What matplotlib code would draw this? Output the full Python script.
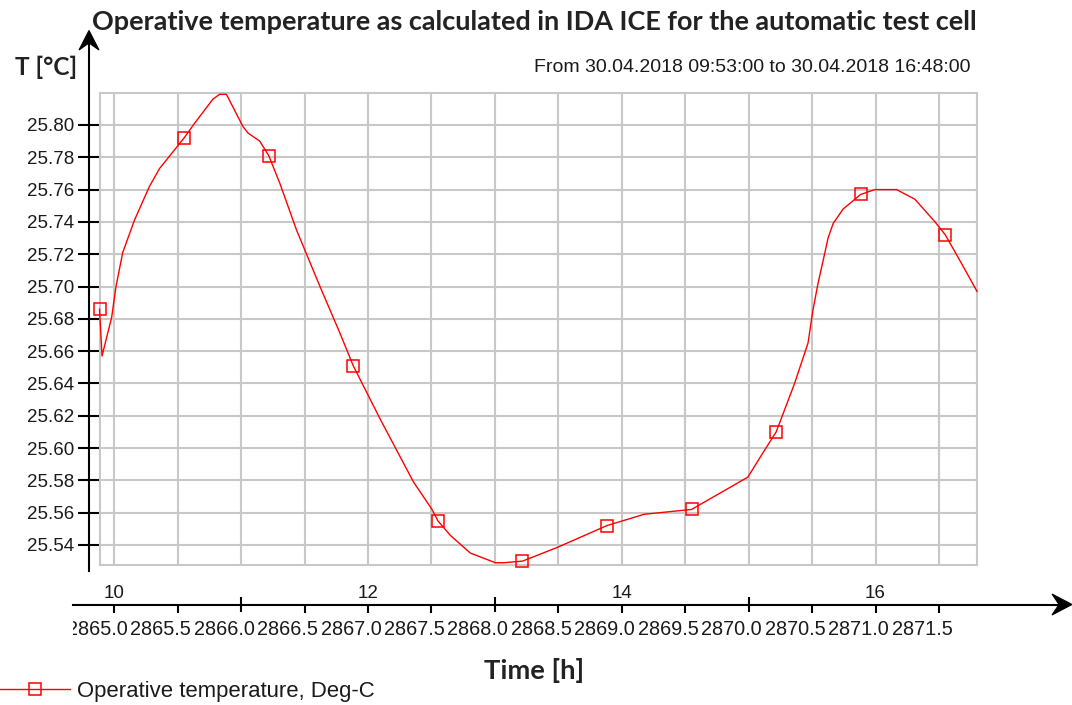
import matplotlib
matplotlib.use("Agg")
import matplotlib.pyplot as plt
from matplotlib.lines import Line2D
from matplotlib.patches import Polygon, Rectangle
from matplotlib.transforms import (ScaledTranslation, Bbox, TransformedBbox,
                                   blended_transform_factory)

# ---- data: operative temperature over the day (hours, deg C) ----
time_h = [9.883, 9.903, 9.979, 10.013, 10.066, 10.158, 10.277, 10.356, 10.550,
          10.632, 10.777, 10.830, 10.883, 11.014, 11.054, 11.146, 11.217, 11.304,
          11.436, 11.621, 11.779, 11.883, 12.095, 12.358, 12.504, 12.550, 12.648,
          12.806, 13.004, 13.070, 13.217, 13.492, 13.883, 14.176, 14.550, 14.994,
          15.112, 15.217, 15.362, 15.468, 15.507, 15.547, 15.587, 15.626, 15.666,
          15.745, 15.883, 15.995, 16.166, 16.311, 16.469, 16.550, 16.680, 16.800]
temp_c = [25.686, 25.657, 25.681, 25.700, 25.721, 25.741, 25.762, 25.773, 25.792,
          25.801, 25.816, 25.819, 25.819, 25.799, 25.795, 25.790, 25.781, 25.764,
          25.735, 25.700, 25.671, 25.651, 25.618, 25.579, 25.562, 25.555, 25.546,
          25.535, 25.529, 25.529, 25.530, 25.5385, 25.552, 25.559, 25.562, 25.582,
          25.597, 25.610, 25.640, 25.665, 25.6855, 25.702, 25.716, 25.730, 25.739,
          25.748, 25.757, 25.760, 25.760, 25.754, 25.740, 25.732, 25.714, 25.697]
marker_idx = [0, 8, 16, 21, 25, 30, 32, 34, 37, 46, 51]

series_label = "Operative temperature, Deg-C"

x_ticks = [10.0, 10.5, 11.0, 11.5, 12.0, 12.5, 13.0, 13.5, 14.0, 14.5, 15.0,
           15.5, 16.0, 16.5]
x_tick_labels = ["2865.0", "2865.5", "2866.0", "2866.5", "2867.0", "2867.5",
                 "2868.0", "2868.5", "2869.0", "2869.5", "2870.0", "2870.5",
                 "2871.0", "2871.5"]
long_ticks = [11.0, 13.0, 15.0]
hour_ticks = [10, 12, 14, 16]
hour_labels = ["10", "12", "14", "16"]
y_ticks = [25.54, 25.56, 25.58, 25.60, 25.62, 25.64, 25.66, 25.68, 25.70,
           25.72, 25.74, 25.76, 25.78, 25.80]
y_tick_labels = ["25.54", "25.56", "25.58", "25.60", "25.62", "25.64", "25.66",
                 "25.68", "25.70", "25.72", "25.74", "25.76", "25.78", "25.80"]
t_start, t_end = 9.883, 16.8
y_min, y_max = 25.5276, 25.8198

title = "Operative temperature as calculated in IDA ICE for the automatic test cell"
subtitle = "From 30.04.2018 09:53:00 to 30.04.2018 16:48:00"
y_title = "T [°C]"
x_title = "Time [h]"

# ---- layout helpers (pixel coordinates measured from the top-left) ----
W, H, DPI = 1072, 705, 100
PT = 72.0 / DPI


def fx(x):
    return x / W


def fy(y):
    return 1.0 - y / H


SANS = ["Liberation Sans", "DejaVu Sans"]
BOLD = ["Lato", "DejaVu Sans"]
TXT = "#1a1a1a"
GRID = "#c8c8c8"
RED = "#ff0000"
FS = 13.5
FS_X = 14.3

fig = plt.figure(figsize=(W / DPI, H / DPI), dpi=DPI)
fig.patch.set_facecolor("white")

L, R, T, B = 99.5, 977, 93, 565
ax = fig.add_axes([fx(L), fy(B), (R - L) / W, (B - T) / H])
ax.set_xlim(t_start, t_end)
ax.set_ylim(y_min, y_max)
ax.set_facecolor("white")

for s in ax.spines.values():
    s.set_visible(False)
ax.spines["bottom"].set_position(("outward", (604 - B) * PT))
ax.add_patch(Rectangle((0, 0), 1, 1, transform=ax.transAxes, fill=False,
                       ec=GRID, lw=1.5, clip_on=False, zorder=1))

# x ticks: long ticks at whole even hours of year, short ones elsewhere
lab = dict(zip(x_ticks, x_tick_labels))
short_ticks = [t for t in x_ticks if t not in long_ticks]
ax.set_xticks(long_ticks, labels=[lab[t] for t in long_ticks])
ax.set_xticks(short_ticks, labels=[lab[t] for t in short_ticks], minor=True)
ax.tick_params(axis="x", which="major", direction="inout", length=15 * PT,
               width=1.5, color="black", pad=5.3 + 1.08, labelsize=FS_X,
               labelcolor=TXT)
ax.tick_params(axis="x", which="minor", direction="out", length=9 * PT,
               width=1.5, color="black", pad=5.3, labelsize=FS_X,
               labelcolor=TXT)

ax.set_yticks(y_ticks, labels=y_tick_labels)
ax.tick_params(axis="y", direction="out", length=22.5 * PT, width=1.5,
               color="black", pad=2.5 * PT, labelsize=FS, labelcolor=TXT)

for lbl in ax.get_xticklabels() + ax.get_yticklabels() + \
        ax.get_xticklabels(minor=True):
    lbl.set_fontfamily(SANS)

shift = ScaledTranslation(-17 / DPI, 0, fig.dpi_scale_trans)
clip = TransformedBbox(Bbox.from_extents(fx(73), 0, 1, 1), fig.transFigure)
for lbl in ax.get_xticklabels() + ax.get_xticklabels(minor=True):
    lbl.set_transform(lbl.get_transform() + shift)
    lbl.set_clip_on(True)
    lbl.set_clip_box(clip)

ax.grid(which="both", axis="x", color=GRID, lw=1.5, zorder=0)
ax.grid(which="major", axis="y", color=GRID, lw=1.5, zorder=0)
ax.set_axisbelow(True)

# the temperature curve with square markers every 40 minutes
ax.plot(time_h, temp_c, color=RED, lw=1.0, marker="s", markevery=marker_idx,
        ms=8.4, mfc="none", mec=RED, mew=1.1, clip_on=False, zorder=3)

# hour-of-day labels above the time axis
trans = blended_transform_factory(ax.transData, fig.transFigure)
for h, s in zip(hour_ticks, hour_labels):
    ax.text(h, fy(598), s, transform=trans, ha="center", va="baseline",
            fontsize=FS, family=SANS, color=TXT, clip_on=False)

# axis lines with arrow heads
fig.add_artist(Line2D([fx(89), fx(89)], [fy(571), fy(42)], color="black",
                      lw=1.5, transform=fig.transFigure))
fig.add_artist(Polygon([(fx(89), fy(30.5)), (fx(79), fy(50)), (fx(89), fy(43)),
                        (fx(99), fy(50))], closed=True, fc="black", ec="black",
                       lw=0.8, transform=fig.transFigure))
fig.add_artist(Line2D([fx(73), fx(1062)], [fy(604.5), fy(604.5)], color="black",
                      lw=1.5, transform=fig.transFigure))
fig.add_artist(Polygon([(fx(1072), fy(604.5)), (fx(1052), fy(594)),
                        (fx(1059), fy(604.5)), (fx(1052), fy(615))],
                       closed=True, fc="black", ec="black", lw=0.8,
                       transform=fig.transFigure))

# titles
renderer = fig.canvas.get_renderer()


def fit_width(txt, width_px):
    for _ in range(3):
        w = txt.get_window_extent(renderer).width
        txt.set_fontsize(txt.get_fontsize() * width_px / w)


t1 = fig.text(fx(92), fy(30), title, ha="left", va="baseline",
              fontweight="bold", family=BOLD, color="#222222", fontsize=18)
fit_width(t1, 885)
t2 = fig.text(fx(971), fy(72), subtitle, ha="right", va="baseline",
              family=SANS, color=TXT, fontsize=FS)
fit_width(t2, 438)
t3 = fig.text(fx(15), fy(75), y_title, ha="left", va="baseline",
              fontweight="bold", family=BOLD, color="#222222", fontsize=18)
fit_width(t3, 62)
t4 = fig.text(fx(484), fy(679), x_title, ha="left", va="baseline",
              fontweight="bold", family=BOLD, color="#222222", fontsize=18)
fit_width(t4, 100)

# legend below the chart, label sized to its measured width
probe = fig.text(0, 0, series_label, family=SANS, fontsize=FS)
fit_width(probe, 298)
leg_fs = probe.get_fontsize()
probe.remove()

proxy = Line2D([], [], color=RED, lw=1.0, marker="s", ms=8.4, mfc="none",
               mec=RED, mew=1.1)
fs_px = leg_fs / PT
fig.legend(handles=[proxy], labels=[series_label], loc="center left",
           bbox_to_anchor=(0, fy(691)), frameon=False, borderpad=0,
           borderaxespad=0, handlelength=70 / fs_px, handletextpad=7 / fs_px,
           prop={"family": SANS, "size": leg_fs}, labelcolor=TXT)

fig.savefig("out.png", dpi=DPI)
